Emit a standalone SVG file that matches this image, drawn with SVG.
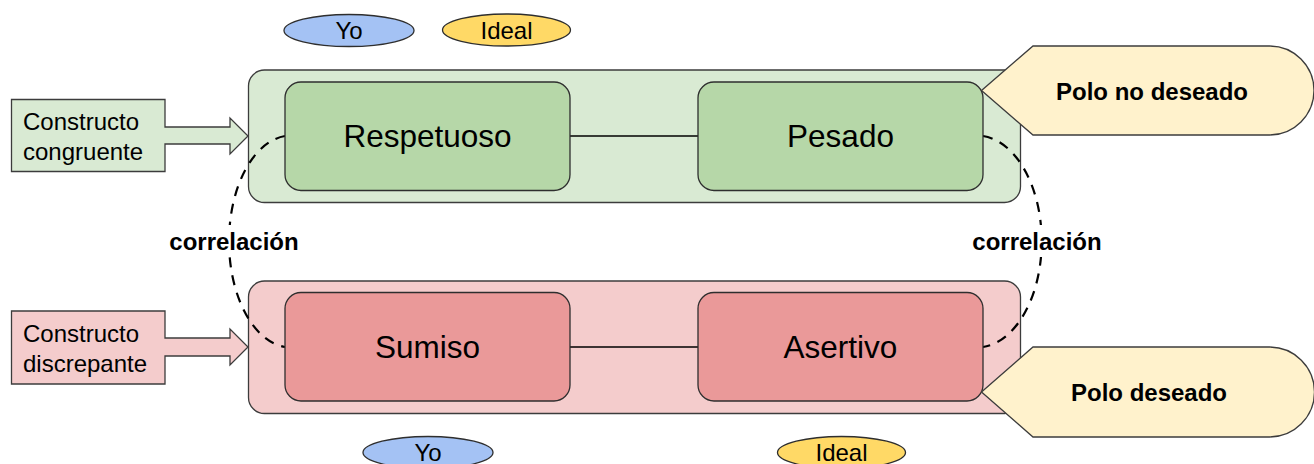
<svg xmlns="http://www.w3.org/2000/svg" width="1314" height="464" viewBox="0 0 1314 464">
<style>
  .t { font-family: "Liberation Sans", Arial, sans-serif; fill: #000; }
  .big { font-size: 31.5px; text-anchor: middle; }
  .sm { font-size: 24px; }
  .ctr { text-anchor: middle; }
  .b { font-weight: bold; font-size: 24px; text-anchor: middle; }
  .outer { stroke: #3c3c3c; stroke-width: 1.3; }
  .inner { stroke: #2e2e2e; stroke-width: 1.3; }
  .g1 { fill: #d9ead3; }
  .g2 { fill: #b6d7a8; }
  .r1 { fill: #f4cccc; }
  .r2 { fill: #ea9999; }
  .polo { fill: #fff2cc; stroke: #3c3c3c; stroke-width: 1.3; }
  .yo { fill: #a4c2f4; stroke: #2e2e2e; stroke-width: 1.3; }
  .ideal { fill: #ffd966; stroke: #2e2e2e; stroke-width: 1.3; }
  .line { stroke: #000; stroke-width: 1.3; fill: none; }
  .dash { stroke: #000; stroke-width: 2.2; fill: none; stroke-dasharray: 10 8; }
</style>

<g id="container-top">
  <rect class="outer g1" x="248.5" y="70" width="772" height="132.5" rx="16"/>
</g>
<g id="container-bottom">
  <rect class="outer r1" x="248.5" y="281" width="772" height="132.5" rx="16"/>
</g>

<g id="connectors">
  <line class="line" x1="570" y1="136" x2="698" y2="136"/>
  <line class="line" x1="570" y1="347" x2="698" y2="347"/>
  <path class="dash" d="M285,136 A62,106 0 0 0 285,347"/>
  <path class="dash" d="M983,136 A65,106 0 0 1 983,347"/>
</g>

<g id="arrow-congruente">
  <path class="outer g1" d="M11.5,99.5 H165 V127 H230 V118 L248,136 L230,154 V144 H165 V171.5 H11.5 Z"/>
  <text class="t sm" x="23" y="130">Constructo</text>
  <text class="t sm" x="23" y="160">congruente</text>
</g>
<g id="arrow-discrepante">
  <path class="outer r1" d="M11.5,311 H165 V338 H230 V329 L248,347 L230,365 V356 H165 V384 H11.5 Z"/>
  <text class="t sm" x="23" y="341.5">Constructo</text>
  <text class="t sm" x="23" y="371.5">discrepante</text>
</g>

<g id="node-respetuoso">
  <rect class="inner g2" x="285" y="82" width="285" height="108.5" rx="16"/>
  <text class="t big" x="427.5" y="147">Respetuoso</text>
</g>
<g id="node-pesado">
  <rect class="inner g2" x="698" y="82" width="285" height="108.5" rx="16"/>
  <text class="t big" x="840.5" y="147">Pesado</text>
</g>
<g id="node-sumiso">
  <rect class="inner r2" x="285" y="292.5" width="285" height="108.5" rx="16"/>
  <text class="t big" x="427.5" y="358">Sumiso</text>
</g>
<g id="node-asertivo">
  <rect class="inner r2" x="698" y="292.5" width="285" height="108.5" rx="16"/>
  <text class="t big" x="840.5" y="358">Asertivo</text>
</g>

<g id="label-correlacion-left">
  <rect x="139" y="225" width="191" height="32" fill="#fff"/>
  <text class="t b" x="234" y="250">correlación</text>
</g>
<g id="label-correlacion-right">
  <rect x="938" y="225" width="193" height="32" fill="#fff"/>
  <text class="t b" x="1037" y="250">correlación</text>
</g>

<g id="polo-no-deseado">
  <path class="polo" d="M981.5,90.5 L1033,46 H1269.5 A44.5,44.5 0 0 1 1269.5,135 H1033 Z"/>
  <text class="t b" x="1152" y="99.5">Polo no deseado</text>
</g>
<g id="polo-deseado">
  <path class="polo" d="M981.5,392 L1033,347 H1269.5 A45,45 0 0 1 1269.5,437 H1033 Z"/>
  <text class="t b" x="1149" y="401">Polo deseado</text>
</g>

<g id="legend-yo-top">
  <ellipse class="yo" cx="349" cy="30.5" rx="65" ry="16"/>
  <text class="t sm ctr" x="349" y="39">Yo</text>
</g>
<g id="legend-ideal-top">
  <ellipse class="ideal" cx="506.5" cy="30" rx="64" ry="16"/>
  <text class="t sm ctr" x="506.5" y="39">Ideal</text>
</g>
<g id="legend-yo-bottom">
  <ellipse class="yo" cx="428" cy="452.5" rx="65" ry="16"/>
  <text class="t sm ctr" x="428" y="461">Yo</text>
</g>
<g id="legend-ideal-bottom">
  <ellipse class="ideal" cx="841.5" cy="452.5" rx="64" ry="16"/>
  <text class="t sm ctr" x="841.5" y="461">Ideal</text>
</g>
</svg>
